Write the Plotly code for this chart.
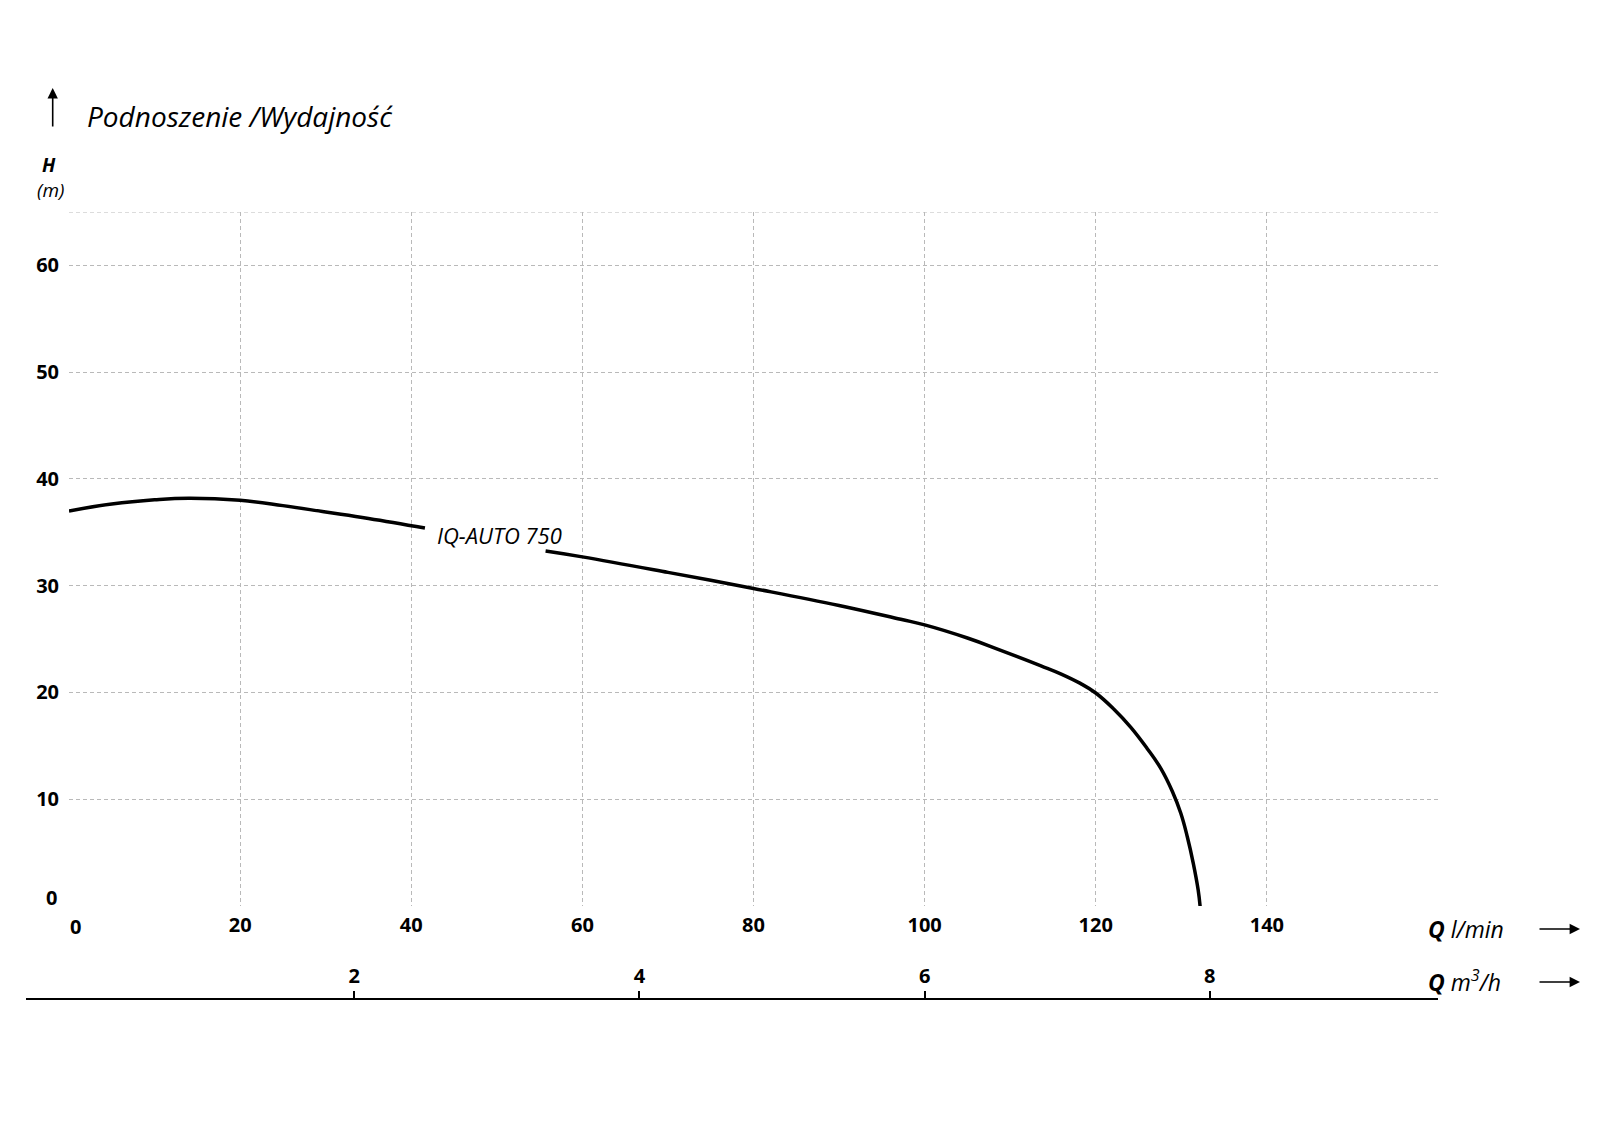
import plotly.graph_objects as go

# ---- data ----
flow_lmin = [0, 5, 10, 14, 20, 25, 30, 35, 41.6, None,
             55.7, 60, 70, 80, 90, 97.2, 100, 105, 108.9, 113.6, 115.9, 118.2, 120,
             122.1, 124.1, 126.0, 127.6, 128.97, 129.94, 130.7, 131.4, 131.97, 132.2]
head_m = [37.0, 37.65, 38.05, 38.2, 38.0, 37.5, 36.9, 36.3, 35.4, None,
          33.25, 32.7, 31.25, 29.74, 28.15, 26.85, 26.33, 25.1, 23.95, 22.5, 21.75, 20.85, 19.95,
          18.45, 16.73, 14.76, 12.89, 10.7, 8.68, 6.49, 4.0, 1.5, -0.06]

x_ticks_lmin = [0, 20, 40, 60, 80, 100, 120, 140, 160]
x_labels_lmin = ["0", "20", "40", "60", "80", "100", "120", "140", ""]
y_ticks = [0, 10, 20, 30, 40, 50, 60]
y_labels = ["0", "10", "20", "30", "40", "50", "60"]
x_ticks_m3h = [2, 4, 6, 8]
series_name = "IQ-AUTO 750"

# page body has an 8px margin; target coordinates below are screenshot pixels
OFF = 8
W, H = 1600, 1143
ML, MR, MT, MB = 61, 170, 204, 152
PW, PH = W - ML - MR, H - MT - MB
Y_BOTTOM_FRAC = (999 - 906) / PH

def px(xp):
    return (xp - OFF - ML) / PW

def py(yp):
    return (H - MB - (yp - OFF)) / PH

FONT = "Open Sans"
GRID = "#b9b9b9"
TICKFONT = dict(size=20, weight="bold", family=FONT, color="black")

fig = go.Figure()
fig.add_trace(go.Scatter(
    x=flow_lmin, y=head_m, mode="lines", name=series_name,
    line=dict(color="black", width=3.5, shape="spline", smoothing=1.2),
    connectgaps=False, showlegend=False, hoverinfo="skip"))
# invisible trace to activate the m3/h axis
fig.add_trace(go.Scatter(x=[0, 9.6], y=[None, None], xaxis="x2", yaxis="y",
                         mode="lines", showlegend=False, hoverinfo="skip"))

# the "0" labels are offset in the original, so they are drawn as annotations
x_text = ["" if v == 0 else t for v, t in zip(x_ticks_lmin, x_labels_lmin)]
y_text = ["" if v == 0 else t for v, t in zip(y_ticks, y_labels)]

fig.update_layout(
    width=W, height=H,
    margin=dict(l=ML, r=MR, t=MT, b=MB, pad=0),
    paper_bgcolor="white", plot_bgcolor="white",
    font=dict(family=FONT, color="black"),
    xaxis=dict(range=[0, 160], tickvals=x_ticks_lmin, ticktext=x_text,
               showgrid=True, gridcolor=GRID, gridwidth=1, griddash="4px,3px",
               zeroline=False, showline=False, ticks="", anchor="y",
               tickfont=TICKFONT, ticklabelstandoff=5),
    xaxis2=dict(range=[0, 9.6], overlaying="x", anchor="free", position=0, side="top",
                tickvals=x_ticks_m3h, ticks="outside", ticklen=8, tickwidth=1.5,
                tickcolor="black", showgrid=False, zeroline=False, showline=False,
                tickfont=TICKFONT),
    yaxis=dict(range=[0, 65], domain=[Y_BOTTOM_FRAC, 1], tickvals=y_ticks, ticktext=y_text,
               showgrid=True, gridcolor=GRID, gridwidth=1, griddash="4px,3px",
               zeroline=False, showline=False, ticks="",
               tickfont=TICKFONT, ticklabelstandoff=9),
)

# top border of grid (dashed)
fig.add_shape(type="line", xref="x", yref="y", x0=0, x1=160, y0=65, y1=65,
              line=dict(color=GRID, width=1, dash="4px,3px"))
# m3/h axis line
fig.add_shape(type="line", xref="paper", yref="paper", x0=px(26), x1=1, y0=0, y1=0,
              line=dict(color="black", width=2))

ann = []
ann.append(dict(text=x_labels_lmin[0], xref="x", yref="paper", x=x_ticks_lmin[0],
                y=py(926), xshift=6, xanchor="center", yanchor="middle",
                showarrow=False, font=TICKFONT))
ann.append(dict(text=y_labels[0], xref="paper", yref="y", x=px(59), y=y_ticks[0],
                yshift=9, xanchor="right", yanchor="middle",
                showarrow=False, font=TICKFONT))
ann.append(dict(text="Podnoszenie /Wydajność", xref="paper", yref="paper",
                x=px(85), y=py(116), xanchor="left", yanchor="middle", showarrow=False,
                font=dict(size=28, style="italic", family=FONT)))
ann.append(dict(text="", xref="paper", yref="paper", x=px(52.7), y=py(88),
                ax=0, ay=40, showarrow=True, arrowhead=2, arrowsize=1.3, arrowwidth=1.6,
                arrowcolor="black"))
ann.append(dict(text="<b>H</b>", xref="paper", yref="paper", x=px(49), y=py(165),
                xanchor="center", yanchor="middle", showarrow=False,
                font=dict(size=19, style="italic", family=FONT)))
ann.append(dict(text="(m)", xref="paper", yref="paper", x=px(50.5), y=py(190),
                xanchor="center", yanchor="middle", showarrow=False,
                font=dict(size=19, style="italic", family=FONT)))
ann.append(dict(text=series_name, xref="x", yref="y", x=50.3, y=34.74,
                xanchor="center", yanchor="middle", showarrow=False,
                font=dict(size=22, style="italic", family=FONT)))
ann.append(dict(text="<b>Q</b> l/min", xref="paper", yref="paper", x=px(1426), y=py(929),
                xanchor="left", yanchor="middle", showarrow=False,
                font=dict(size=23, style="italic", family=FONT)))
ann.append(dict(text="<b>Q</b> m<sup>3</sup>/h", xref="paper", yref="paper", x=px(1426), y=py(981),
                xanchor="left", yanchor="middle", showarrow=False,
                font=dict(size=23, style="italic", family=FONT)))
for yy in (929, 982):
    ann.append(dict(text="", xref="paper", yref="paper", x=px(1580), y=py(yy),
                    ax=-42, ay=0, showarrow=True, arrowhead=2, arrowsize=1.3, arrowwidth=1.6,
                    arrowcolor="black"))
fig.update_layout(annotations=ann)

fig.write_html("out.html")
